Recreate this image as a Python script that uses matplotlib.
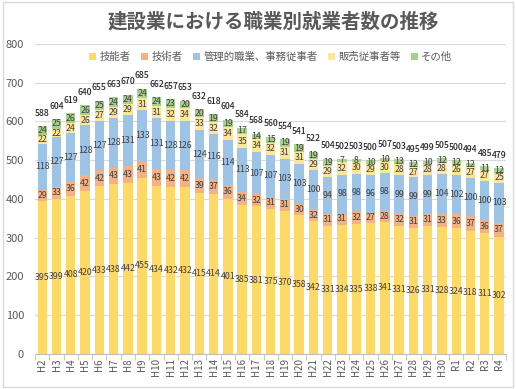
import matplotlib.pyplot as plt
from matplotlib.patches import Rectangle
import numpy as np

plt.rcParams['font.family'] = ['Noto Sans CJK JP', 'DejaVu Sans']

years = ['H2', 'H3', 'H4', 'H5', 'H6', 'H7', 'H8', 'H9', 'H10', 'H11', 'H12',
         'H13', 'H14', 'H15', 'H16', 'H17', 'H18', 'H19', 'H20', 'H21', 'H22',
         'H23', 'H24', 'H25', 'H26', 'H27', 'H28', 'H29', 'H30', 'R1', 'R2',
         'R3', 'R4']

ginou = [395, 399, 408, 420, 433, 438, 442, 455, 434, 432, 432, 415, 414, 401,
         385, 381, 375, 370, 358, 342, 331, 334, 335, 338, 341, 331, 326, 331,
         328, 324, 318, 311, 302]
gijutsu = [29, 33, 36, 42, 42, 43, 43, 41, 43, 42, 42, 39, 37, 36, 34, 32, 31,
           31, 30, 32, 31, 31, 32, 27, 28, 32, 31, 31, 33, 36, 37, 36, 37]
kanri = [118, 127, 127, 128, 127, 128, 131, 133, 131, 128, 126, 124, 116, 114,
         113, 107, 107, 103, 103, 100, 94, 98, 98, 96, 98, 99, 99, 99, 104, 102,
         100, 100, 103]
hanbai = [22, 22, 24, 26, 27, 29, 29, 31, 31, 32, 34, 33, 32, 34, 35, 34, 32,
          31, 31, 29, 29, 32, 30, 29, 30, 28, 27, 28, 28, 26, 27, 27, 25]
sonota = [24, 25, 26, 26, 25, 24, 24, 24, 24, 23, 20, 20, 19, 19, 17, 14, 15,
          19, 19, 19, 19, 7, 8, 10, 10, 13, 12, 10, 12, 12, 12, 11, 12]
totals = [588, 604, 619, 640, 655, 663, 670, 685, 662, 657, 653, 632, 618, 604,
          584, 568, 560, 554, 541, 522, 504, 502, 503, 500, 507, 503, 495, 499,
          505, 500, 494, 485, 479]

series = [
    ('技能者', ginou, '#FFD966'),
    ('技術者', gijutsu, '#F4B183'),
    ('管理的職業、事務従事者', kanri, '#9DC3E6'),
    ('販売従事者等', hanbai, '#FFE699'),
    ('その他', sonota, '#A9D18E'),
]

fig = plt.figure(figsize=(5.16, 3.89), dpi=100)
fig.patches.append(Rectangle((0.006, 0.004), 0.988, 0.992, transform=fig.transFigure,
                             fill=False, edgecolor='#D9D9D9', linewidth=1))
ax = fig.add_axes([0.068, 0.090, 0.913, 0.797])

x = np.arange(len(years))
bottom = np.zeros(len(years))
for name, vals, color in series:
    bars = ax.bar(x, vals, 0.66, bottom=bottom, color=color, label=name, zorder=2)
    ax.bar_label(bars, label_type='center', fontsize=6.3, color='#404040', padding=0)
    bottom += np.array(vals)

# totals sit a bit above the bars, as in the original
for xi, top, t in zip(x, bottom, totals):
    ax.text(xi, top + 22, str(t), ha='center', va='bottom', fontsize=6.2,
            color='#262626', fontweight='medium')

ax.set_xlim(-0.5, len(years) - 0.5)
ax.set_ylim(0, 800)
ax.set_yticks(range(0, 801, 100))
ax.set_xticks(x)
ax.set_xticklabels(years, rotation=90, fontsize=7, color='#595959')
ax.set_xticks(np.arange(-0.5, len(years), 1), minor=True)
ax.tick_params(axis='x', which='major', length=0, pad=3)
ax.tick_params(axis='x', which='minor', length=4, color='#BFBFBF')
ax.tick_params(axis='y', length=0, labelsize=8, labelcolor='#595959', pad=8)
ax.yaxis.grid(True, color='#D9D9D9', linewidth=0.8, zorder=0)
for s in ['top', 'right', 'left']:
    ax.spines[s].set_visible(False)
ax.spines['bottom'].set_color('#BFBFBF')

fig.text(0.53, 0.945, '建設業における職業別就業者数の推移', ha='center', va='center',
         fontsize=14, fontweight='bold', color='#595959')

ax.legend(loc='upper center', bbox_to_anchor=(0.5, 1.005), ncol=5, frameon=False,
          fontsize=7.5, handlelength=0.7, handleheight=0.7, handletextpad=0.3,
          columnspacing=1.0, labelcolor='#595959')

fig.savefig('out.png', dpi=100)
